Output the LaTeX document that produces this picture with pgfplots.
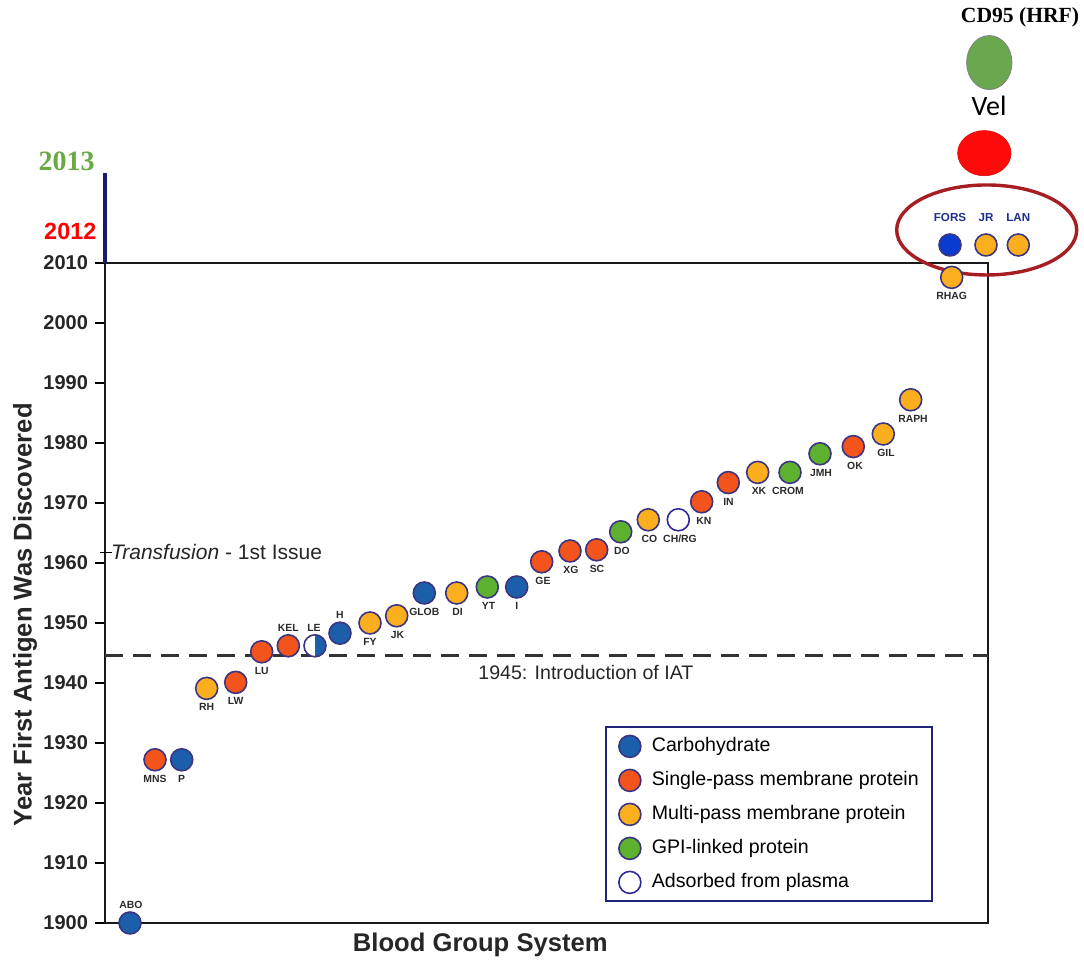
\documentclass[border=0pt]{standalone}
\usepackage{pgfplots}
\pgfplotsset{compat=1.18}
\usepackage{pgfplotstable}
\usepackage{fontspec}
\setmainfont{Liberation Sans}
\newfontfamily\timesbf{Liberation Serif}
\newfontfamily\calib{Carlito}

\definecolor{carb}{HTML}{1B5FAA}
\definecolor{single}{HTML}{F2541B}
\definecolor{multi}{HTML}{FBAF1F}
\definecolor{gpi}{HTML}{5DB12F}
\definecolor{edge}{HTML}{3B3480}
\definecolor{fors}{HTML}{0A3BD0}
\definecolor{navylab}{HTML}{1F2F8F}
\definecolor{legframe}{HTML}{1F237A}
\definecolor{ringred}{HTML}{A61D22}
\definecolor{velred}{HTML}{FF0A0A}
\definecolor{cdgreen}{HTML}{6AA84F}
\definecolor{yrgreen}{HTML}{6AAA45}
\definecolor{axisnavy}{HTML}{1A1A6E}
\definecolor{labgrey}{HTML}{2A2A2A}

% x = position along the system axis, y = year
\pgfplotstableread{
x y
130 1900
181.7 1927.2
340 1948.3
424.3 1955
516.7 1956
}\carbo
\pgfplotstableread{
x y
155 1927.2
235.7 1940.1
261.7 1945.2
288.3 1946.2
541.7 1960.2
570 1962
596.7 1962.2
701.7 1970.2
728.3 1973.4
853.3 1979.4
}\single
\pgfplotstableread{
x y
206.7 1939.1
370 1950
396.7 1951.2
456.7 1955
648.3 1967.2
757.7 1975.1
883.3 1981.5
910.7 1987.2
951.7 2007.6
}\multi
\pgfplotstableread{
x y
487.3 1956
620.7 1965.2
790 1975.1
820 1978.2
}\gpi
\pgfplotstableread{
x y
678.3 1967.2
}\plasma
% labels set below their point
\pgfplotstableread{
x y name
155 1927.2 MNS
181.7 1927.2 P
206.7 1939.1 RH
235.7 1940.1 LW
261.7 1945.2 LU
370 1950 FY
397.5 1951.2 JK
424.3 1955 GLOB
457.5 1955 DI
488.5 1956 YT
516.7 1956 I
543 1960.2 GE
571 1962 XG
597 1962.2 SC
622 1965.2 DO
649.5 1967.2 CO
680 1967.2 CH/RG
704 1970.2 KN
728.5 1973.4 IN
759 1975.1 XK
788 1975.1 CROM
821 1978.2 JMH
855 1979.4 OK
886 1981.5 GIL
913 1987.2 RAPH
951.7 2007.6 RHAG
}\labsbelow
% labels set above their point
\pgfplotstableread{
x y name
131 1900 ABO
288.3 1946.2 KEL
314 1946.2 LE
340 1948.3 H
}\labsabove
% above the frame the scale is stretched: values are the drawn heights
\pgfplotstableread{
x y name
950 2013 FORS
986 2013 JR
1018.3 2013 LAN
}\newsys

\begin{document}
\begin{tikzpicture}
\begin{axis}[
  scale only axis,
  width=441.5pt, height=330pt,
  xmin=105, xmax=988,
  ymin=1900, ymax=2010,
  clip=false,
  xtick=\empty,
  ytick={1900,1910,...,2010},
  ytick pos=left,
  tick align=outside,
  major tick length=5pt,
  tick style={line width=1pt, black},
  axis line style={line width=1.25pt, black!90},
  /pgf/number format/1000 sep={},
  /pgf/number format/assume math mode=true,
  yticklabel style={font=\bfseries\fontsize{10}{12}\selectfont, text=black!85},
  ylabel={Year First Antigen Was Discovered},
  ylabel style={at={(axis description cs:-0.0906,0.467)}, anchor=center,
    font=\bfseries\fontsize{12.8}{15}\selectfont, text=black!85},
  xlabel={Blood Group System},
  xlabel style={at={(axis description cs:0.425,-0.0333)}, anchor=center,
    font=\bfseries\fontsize{12.8}{15}\selectfont, text=black!85},
  every axis plot/.append style={mark size=5.5pt},
  legend image code/.code={\draw[#1,mark repeat=2,mark phase=2]
    plot coordinates {(0pt,0pt) (6pt,0pt) (12pt,0pt)};},
  legend style={at={(0.566,0.298)}, anchor=north west, draw=legframe,
    line width=1.1pt, fill=white, font=\fontsize{9.8}{11}\selectfont,
    inner xsep=6.5pt, inner ysep=4pt, row sep=6pt,
    nodes={inner sep=0pt, text height=7pt, text depth=2pt},
    /tikz/every odd column/.append style={column sep=5.5pt}},
  legend cell align=left,
]
% 1945 line
\addplot[forget plot, black!80, line width=1.5pt, dash pattern=on 9pt off 5pt]
  coordinates {(105,1944.5) (988,1944.5)};

\addplot[only marks, mark=*, mark options={fill=carb, draw=edge, line width=0.8pt}]
  table[x=x, y=y] {\carbo};
\addlegendentry{Carbohydrate}
\addplot[only marks, mark=*, mark options={fill=single, draw=edge, line width=0.8pt}]
  table[x=x, y=y] {\single};
\addlegendentry{Single-pass membrane protein}
\addplot[only marks, mark=*, mark options={fill=multi, draw=edge, line width=0.8pt}]
  table[x=x, y=y] {\multi};
\addlegendentry{Multi-pass membrane protein}
\addplot[only marks, mark=*, mark options={fill=gpi, draw=edge, line width=0.8pt}]
  table[x=x, y=y] {\gpi};
\addlegendentry{GPI-linked protein}
\addplot[only marks, mark=*, mark options={fill=white, draw=edge!80!blue, line width=0.8pt}]
  table[x=x, y=y] {\plasma};
\addlegendentry{Adsorbed from plasma}

% LE: carbohydrate adsorbed from plasma (half filled)
\addplot[forget plot, only marks, mark=halfcircle*,
  mark options={fill=carb, draw=edge, line width=0.8pt, rotate=-90}]
  coordinates {(315,1946.2)};

% points above the frame
\addplot[forget plot, only marks, mark=*, mark options={fill=fors, draw=edge, line width=0.8pt}]
  coordinates {(950,2013)};
\addplot[forget plot, only marks, mark=*, mark options={fill=multi, draw=edge, line width=0.8pt}]
  coordinates {(986,2013) (1018.3,2013)};
\addplot[forget plot, only marks, mark=*, mark size=11.3pt,
  mark options={fill=velred, draw=velred!85!black, line width=0.3pt, xscale=1.18}]
  coordinates {(984.3,2028.3)};
\addplot[forget plot, only marks, mark=*, mark size=13.5pt,
  mark options={fill=cdgreen, draw=gray, line width=0.4pt, xscale=0.84}]
  coordinates {(989.3,2043.4)};

% labels
\addplot[forget plot, draw=none, mark=none,
  nodes near coords, point meta=explicit symbolic,
  nodes near coords style={anchor=center, yshift=-9.5pt, inner sep=0pt,
    font=\bfseries\fontsize{5.2}{6}\selectfont, text=labgrey}]
  table[x=x, y=y, meta=name] {\labsbelow};
\addplot[forget plot, draw=none, mark=none,
  nodes near coords, point meta=explicit symbolic,
  nodes near coords style={anchor=center, yshift=9pt, inner sep=0pt,
    font=\bfseries\fontsize{5.2}{6}\selectfont, text=labgrey}]
  table[x=x, y=y, meta=name] {\labsabove};
\addplot[forget plot, draw=none, mark=none,
  nodes near coords, point meta=explicit symbolic,
  nodes near coords style={anchor=center, yshift=13.5pt, inner sep=0pt,
    font=\bfseries\fontsize{5.8}{7}\selectfont, text=navylab}]
  table[x=x, y=y, meta=name] {\newsys};

% annotations
\draw[ringred, line width=1.7pt] (axis cs:986.7,2015.5) ellipse [x radius=45pt, y radius=22.5pt];
\draw[axisnavy, line width=1.6pt] (axis cs:105,2010) -- (axis cs:105,2025.05);
\node[anchor=east, inner sep=0pt, text=red, font=\bfseries\fontsize{11.7}{13}\selectfont]
  at (axis cs:96.7,2015.2) {2012};
\node[anchor=east, inner sep=0pt, text=yrgreen, font=\timesbf\bfseries\fontsize{14}{16}\selectfont]
  at (axis cs:95,2026.9) {2013};
\node[inner sep=0pt, font=\calib\fontsize{14}{16}\selectfont] at (axis cs:989,2036.2) {Vel};
\node[inner sep=0pt, font=\timesbf\bfseries\fontsize{10.8}{12}\selectfont] at (axis cs:1020,2051) {CD95 (HRF)};
\draw[line width=0.6pt] (axis cs:100,1961.8) -- (axis cs:112,1961.8);
\node[anchor=west, inner sep=0pt, font=\fontsize{10.5}{12}\selectfont, text=black!85]
  at (axis cs:110.7,1961.8) {\textit{Transfusion} - 1st Issue};
\node[anchor=west, inner sep=0pt, font=\fontsize{9.8}{12}\selectfont, text=black!85]
  at (axis cs:478,1941.8) {1945: Introduction of IAT};
% page frame
\path (axis cs:0,1892.83) rectangle (axis cs:1084,2053.83);
\end{axis}
\end{tikzpicture}
\end{document}
